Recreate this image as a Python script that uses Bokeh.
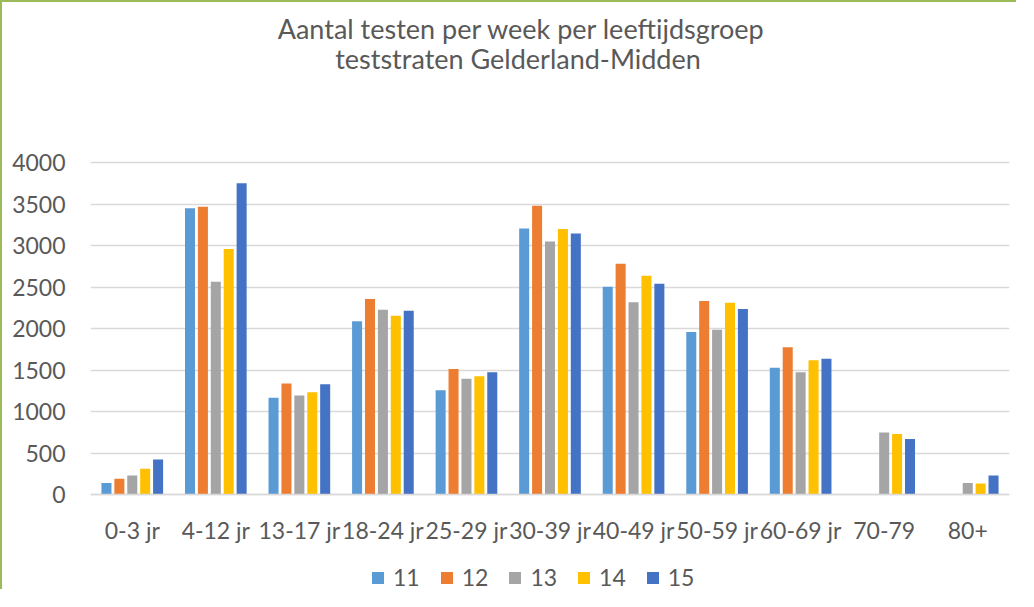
from bokeh.plotting import figure
from bokeh.models import ColumnDataSource, FactorRange, Range1d, Legend, LegendItem, Label, FixedTicker
from bokeh.transform import dodge
from bokeh.embed import file_html
from bokeh.resources import INLINE

categories = ["0-3 jr", "4-12 jr", "13-17 jr", "18-24 jr", "25-29 jr", "30-39 jr",
              "40-49 jr", "50-59 jr", "60-69 jr", "70-79", "80+"]
weeks = ["11", "12", "13", "14", "15"]
w11 = [140, 3450, 1167, 2086, 1256, 3206, 2503, 1958, 1528, None, None]
w12 = [189, 3466, 1336, 2355, 1513, 3478, 2780, 2331, 1773, None, None]
w13 = [229, 2564, 1192, 2227, 1396, 3049, 2315, 1986, 1472, 746, 140]
w14 = [309, 2957, 1232, 2154, 1424, 3198, 2636, 2311, 1617, 730, 132]
w15 = [421, 3751, 1328, 2215, 1472, 3145, 2540, 2235, 1637, 670, 229]
series = [w11, w12, w13, w14, w15]
colors = ["#5B9BD5", "#ED7D31", "#A5A5A5", "#FFC000", "#4472C4"]
yticks = [0, 500, 1000, 1500, 2000, 2500, 3000, 3500, 4000]
title_lines = ["Aantal testen per week per leeftijdsgroep", "teststraten Gelderland-Midden"]

FONT = "Lato"
TXT = "#595959"

# canvas 589 px tall; value 0 at canvas y 492, 4000 at canvas y 160
H = 589
Y0_PX = 492
PX_PER_UNIT = (492 - 160) / 4000.0
YMAX = Y0_PX / PX_PER_UNIT
YMIN = -(H - Y0_PX) / PX_PER_UNIT

p = figure(x_range=FactorRange(*categories), y_range=Range1d(YMIN, YMAX),
           width=1016, height=H, output_backend="svg", toolbar_location=None,
           min_border_left=88, min_border_right=9, min_border_top=0, min_border_bottom=0)
p.styles = {"border-top": "2px solid #9BBB59", "border-left": "2px solid #9BBB59"}
p.outline_line_color = None
p.xgrid.grid_line_color = None
p.ygrid.grid_line_color = "#D9D9D9"
p.ygrid.grid_line_width = 1.5
p.yaxis.ticker = FixedTicker(ticks=yticks)
p.yaxis.axis_line_color = None
p.yaxis.major_tick_line_color = None
p.yaxis.minor_tick_line_color = None
p.yaxis.major_tick_out = 0
p.yaxis.major_label_standoff = 25
p.yaxis.major_label_text_font = FONT
p.yaxis.major_label_text_font_size = "23px"
p.yaxis.major_label_text_color = TXT
p.xaxis.fixed_location = 0
p.xaxis.axis_line_color = "#D9D9D9"
p.xaxis.axis_line_width = 1.5
p.xaxis.major_tick_line_color = None
p.xaxis.major_tick_out = 0
p.xaxis.major_label_standoff = 21
p.xaxis.major_label_text_font = FONT
p.xaxis.major_label_text_font_size = "23px"
p.xaxis.major_label_text_color = TXT

pitch = 0.1545
bw = 0.12
items = []
for i, (wk, vals, col) in enumerate(zip(weeks, series, colors)):
    xs = [c for c, v in zip(categories, vals) if v is not None]
    ys = [v for v in vals if v is not None]
    src = ColumnDataSource(dict(cat=xs, val=ys))
    r = p.vbar(x=dodge("cat", (i - 2) * pitch, range=p.x_range), top="val", width=bw,
               source=src, fill_color=col, line_color=None)
    items.append(LegendItem(label=wk, renderers=[r]))

legend = Legend(items=items, orientation="horizontal", location=(280, 0),
                border_line_color=None, background_fill_alpha=0, padding=0, margin=0,
                spacing=19, label_standoff=8, glyph_width=15, glyph_height=15,
                label_text_font=FONT, label_text_font_size="23px", label_text_color=TXT)
p.add_layout(legend, "center")

title_pos = [(5.159, 5614), (5.117, 5247)]
for txt, (lx, ly) in zip(title_lines, title_pos):
    p.add_layout(Label(x=lx, y=ly, text=txt, text_align="center", text_baseline="middle",
                       text_font=FONT, text_font_size="27px", text_color=TXT))

open("out.html", "w").write(file_html(p, INLINE))
